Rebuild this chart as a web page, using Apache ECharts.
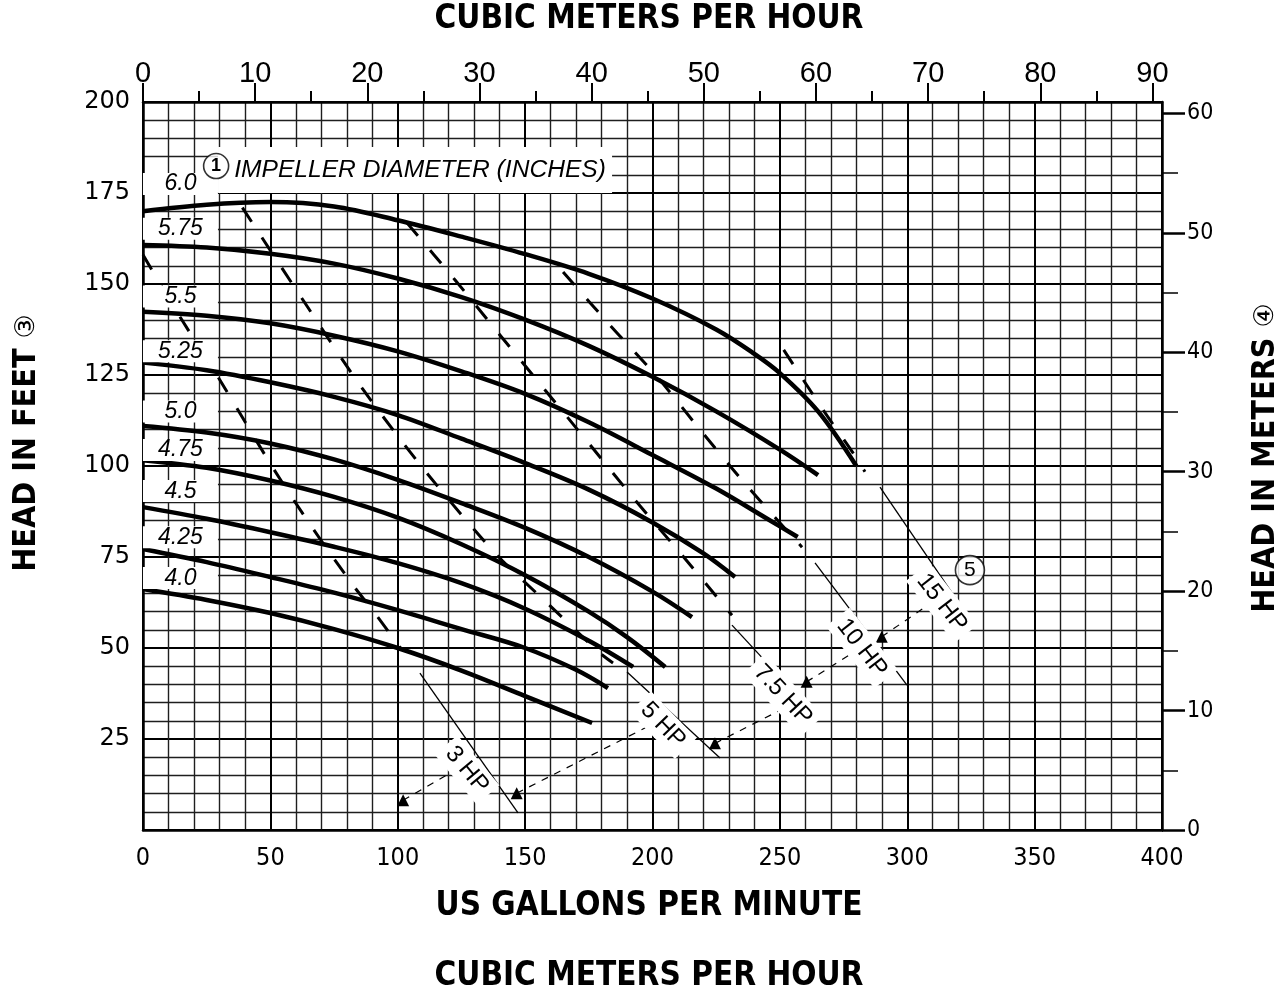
<!DOCTYPE html>
<html><head><meta charset="utf-8">
<script src="https://cdn.jsdelivr.net/npm/echarts@6/dist/echarts.min.js"></script>
<style>html,body{margin:0;padding:0;background:#fff}#c{width:1288px;height:992px}</style>
</head><body><div id="c"></div>
<script>
// ---------- data ----------
const GPM_MAX = 400, FT_MAX = 200;
const M3H_PER_GPM = 0.2271247, M_PER_FT = 0.3048;
const gpmLabels = [0,50,100,150,200,250,300,350,400];
const ftLabels = [25,50,75,100,125,150,175,200];
const topMajorTicks = [0,10,20,30,40,50,60,70,80,90];
const topMinorTicks = [5,15,25,35,45,55,65,75,85];
const rightMajorTicks = [0,10,20,30,40,50,60];
const rightMinorTicks = [5,15,25,35,45,55];

// impeller curves [gpm, ft]
const imp60  = [[0,170],[25,171.8],[50,172.5],[75,171.3],[100,167.5],[125,163],[150,158.2],[175,152.8],[200,146],[225,137.5],[240,130.8],[250,125.5],[265,115],[280,100]];
const imp575 = [[0,160.7],[25,160],[50,158.3],[75,155.6],[100,151.5],[125,146.4],[150,140.2],[175,133],[200,124.5],[225,115],[250,104.5],[265,97.5]];
const imp55  = [[0,142.4],[25,141.3],[50,139.2],[75,135.8],[100,131.5],[125,126],[150,119.8],[175,112],[200,103],[225,93.8],[245,85.5],[257,80.5]];
const imp525 = [[0,128.4],[25,126.3],[50,123],[75,119],[100,114],[125,107.5],[150,100.8],[175,93.5],[200,84.5],[220,76],[232.4,69.5]];
const imp50  = [[0,111],[25,109.2],[50,106.2],[75,101.8],[100,96.2],[125,89.8],[150,83],[175,75],[200,65.5],[215.5,58.5]];
const imp475 = [[0,101.6],[25,99.5],[50,96],[75,91.5],[100,85.8],[125,78.5],[150,70],[175,60],[190,53],[205,44.8]];
const imp45  = [[0,88.7],[25,85.5],[50,81.8],[75,77.8],[100,73.3],[125,67.8],[150,60.8],[175,52],[192.4,44.8]];
const imp425 = [[0,77.2],[25,73.6],[50,69.5],[75,65.2],[100,60.4],[125,55.2],[150,50],[170,44],[182.5,39]];
const imp40  = [[0,66.2],[25,63.2],[50,59.6],[75,55.2],[100,50],[125,43.8],[150,36.8],[176.3,29.4]];

// dashed power-limit lines
const pow1 = [[0,158],[14.5,141],[29.4,124.5],[51,99.5],[66.3,83.2],[82.4,67.3],[91,59.6],[101,50]];
const pow2 = [[39,171],[62.8,145.6],[86,121.4],[111.5,98],[139,75.5],[158.6,62.4],[179.4,48.6],[184.5,45.9]];
const pow3 = [[103.6,166.8],[122.5,151.1],[140.1,136],[157.8,120.9],[175.5,105.8],[193.1,90.7],[211.6,75.5],[231.2,59]];
const pow4 = [[164.9,153.3],[183.3,138.7],[201.8,124.5],[219.8,109],[237.5,94.2],[258.7,77.7]];
const pow5 = [[251.5,131.9],[267,115.4],[278.7,103.6],[283.4,98.4]];

// thin HP lines
const hp3  = [[108.7,43.1],[147.2,4.7]];
const hp5  = [[190,43.4],[226.5,19.8]];
const hp75 = [[231.2,56.3],[264.6,31]];
const hp10 = [[263.8,73.4],[299.9,39.8]];
const hp15 = [[289.3,94.2],[325.4,57.1]];

// leader arrows
const arrow1 = [[102.1,8.2],[131.8,20.2]];
const arrow2 = [[146.7,10.1],[208.2,32]];
const arrow3 = [[224.5,23.8],[258,35.7]];
const arrow4 = [[260.5,40.7],[286.6,52.2]];
const arrow5 = [[290,53.1],[316.8,65.9]];

// text labels [text, gpm, ft]
const impLabels = [["6.0",14.7,177.5],["5.75",14.7,165.2],["5.5",14.7,146.6],["5.25",14.7,131.5],["5.0",14.7,115.0],["4.75",14.7,104.4],["4.5",14.7,93.1],["4.25",14.7,80.4],["4.0",14.7,69.2]];
const titleLabel = ["IMPELLER DIAMETER (INCHES)",106.8,181.3];
const hpLabels = [["3 HP",127.2,16.5],["5 HP",204.1,28.8],["7.5 HP",251.2,37.1],["10 HP",282.2,50],["15 HP",313.6,62.4]];
const hpLabelRot = [-50,-46,-47,-52,-52];
const notes = [["1",28.7,182.4],["5",324.6,71.4]];

// ---------- chart ----------
const COND = '"DejaVu Sans Condensed","Liberation Sans",sans-serif';
const SANS = '"Liberation Sans",Arial,sans-serif';
const chart = echarts.init(document.getElementById('c'), null, {renderer:'canvas'});

const labelBase = {show:true, position:'inside', formatter:'{b}', color:'#000', opacity:1, textBorderWidth:0, textShadowBlur:0};
const series = [];
[imp60,imp575,imp55,imp525,imp50,imp475,imp45,imp425,imp40].forEach(d=>{
  series.push({type:'line', data:d, symbol:'none', smooth:0.35, lineStyle:{color:'#000', width:4.5}, z:4, silent:true});
});
[pow1,pow2,pow3,pow4,pow5].forEach(d=>{
  series.push({type:'line', data:d, symbol:'none', smooth:0.3, lineStyle:{color:'#000', width:3, type:[17,19], cap:'butt'}, z:3, silent:true});
});
[hp3,hp5,hp75,hp10,hp15].forEach(d=>{
  series.push({type:'line', data:d, symbol:'none', lineStyle:{color:'#000', width:1.3}, z:3, silent:true});
});
[arrow1,arrow2,arrow3,arrow4,arrow5].forEach(d=>{
  series.push({type:'line', showSymbol:true, symbol:'triangle', symbolSize:12,
    itemStyle:{color:'#000'},
    data:[{value:d[0]},{value:d[1], symbol:'none'}],
    lineStyle:{color:'#000', width:1.2, type:[7,7]}, z:3, silent:true});
});
series.push({type:'scatter', symbolSize:1, itemStyle:{color:'#fff'}, z:6, silent:true,
  data: impLabels.map(l=>({name:l[0], value:[l[1],l[2]]})),
  label:Object.assign({}, labelBase, {fontFamily:SANS, fontStyle:'italic', fontSize:23,
    backgroundColor:'#fff', width:75, height:22, lineHeight:22, align:'center', verticalAlign:'middle'})
});
series.push({type:'scatter', symbolSize:1, itemStyle:{color:'#fff'}, z:6, silent:true,
  data:[{name:titleLabel[0], value:[titleLabel[1],titleLabel[2]]}],
  label:Object.assign({}, labelBase, {fontFamily:SANS, fontStyle:'italic', fontSize:24.6,
    backgroundColor:'#fff', width:384, height:46, lineHeight:46, padding:[0,0,0,10], align:'center', verticalAlign:'middle'})
});
series.push({type:'scatter', symbolSize:1, itemStyle:{color:'#fff'}, z:6, silent:true,
  data: hpLabels.map((l,i)=>({name:l[0], value:[l[1],l[2]], label:{rotate:hpLabelRot[i]}})),
  label:Object.assign({}, labelBase, {fontFamily:SANS, fontSize:24,
    backgroundColor:'#fff', padding:[3,6], align:'center', verticalAlign:'middle'})
});
series.push({type:'scatter', symbol:'circle', z:7, silent:true,
  data: notes.map((n,i)=>({name:n[0], value:[n[1],n[2]], symbolSize: i===0?25:29,
     label:{fontWeight: i===0?'bold':'normal', fontSize: i===0?18:21}})),
  itemStyle:{color:'#fff', borderColor:'#000', borderWidth:1.6},
  label:Object.assign({}, labelBase, {fontFamily:SANS})
});

const gridRect = {left:143, right:126, top:102, bottom:162, containLabel:false};
const option = {
  animation:false,
  backgroundColor:'#fff',
  grid:[Object.assign({}, gridRect), Object.assign({}, gridRect)],
  xAxis:[
    {type:'value', gridIndex:0, position:'bottom', min:0, max:GPM_MAX, interval:50,
      axisLine:{show:true, onZero:false, lineStyle:{color:'#000', width:2.5}},
      axisTick:{show:false},
      axisLabel:{color:'#000', fontFamily:COND, fontSize:25, margin:16, customValues:gpmLabels},
      splitLine:{show:true, lineStyle:{color:'#000', width:2}},
      minorTick:{show:false, splitNumber:5},
      minorSplitLine:{show:true, lineStyle:{color:'#1e1e1e', width:1.4}}},
    {type:'value', gridIndex:0, position:'top', min:0, max:GPM_MAX*M3H_PER_GPM,
      axisLine:{show:true, onZero:false, lineStyle:{color:'#000', width:2.5}},
      axisTick:{show:true, inside:false, length:19, lineStyle:{color:'#000', width:2}, customValues:topMajorTicks},
      axisLabel:{show:true, color:'#000', fontFamily:SANS, fontSize:29, margin:14, customValues:topMajorTicks},
      splitLine:{show:false}},
    {type:'value', gridIndex:1, position:'top', min:0, max:GPM_MAX*M3H_PER_GPM,
      axisLine:{show:false, onZero:false},
      axisTick:{show:true, inside:false, length:11, lineStyle:{color:'#000', width:2}, customValues:topMinorTicks},
      axisLabel:{show:false},
      splitLine:{show:false}}
  ],
  yAxis:[
    {type:'value', gridIndex:0, position:'left', min:0, max:FT_MAX, interval:25,
      axisLine:{show:true, onZero:false, lineStyle:{color:'#000', width:2.5}},
      axisTick:{show:false},
      axisLabel:{color:'#000', fontFamily:'"DejaVu Sans",sans-serif', fontSize:24, margin:13, customValues:ftLabels},
      splitLine:{show:true, lineStyle:{color:'#000', width:2}},
      minorTick:{show:false, splitNumber:5},
      minorSplitLine:{show:true, lineStyle:{color:'#1e1e1e', width:1.4}}},
    {type:'value', gridIndex:0, position:'right', min:0, max:FT_MAX*M_PER_FT,
      axisLine:{show:true, onZero:false, lineStyle:{color:'#000', width:2.5}},
      axisTick:{show:true, inside:false, length:23, lineStyle:{color:'#000', width:2.5}, customValues:rightMajorTicks},
      axisLabel:{show:true, color:'#000', fontFamily:COND, fontSize:23, margin:25, customValues:rightMajorTicks},
      splitLine:{show:false}},
    {type:'value', gridIndex:1, position:'right', min:0, max:FT_MAX*M_PER_FT,
      axisLine:{show:false, onZero:false},
      axisTick:{show:true, inside:false, length:16, lineStyle:{color:'#000', width:1.5}, customValues:rightMinorTicks},
      axisLabel:{show:false},
      splitLine:{show:false}}
  ],
  graphic:[
    {type:'text', x:649, y:19, z:10, style:{text:'CUBIC METERS PER HOUR', fill:'#000', font:'bold 33px '+COND, textAlign:'center', textVerticalAlign:'middle'}},
    {type:'text', x:649, y:906, z:10, style:{text:'US GALLONS PER MINUTE', fill:'#000', font:'bold 33px '+COND, textAlign:'center', textVerticalAlign:'middle'}},
    {type:'text', x:649, y:976, z:10, style:{text:'CUBIC METERS PER HOUR', fill:'#000', font:'bold 33px '+COND, textAlign:'center', textVerticalAlign:'middle'}},
    {type:'text', x:27, y:443, rotation:Math.PI/2, z:10, style:{text:'HEAD IN FEET {c|③}', fill:'#000', font:'bold 32px '+COND, textAlign:'center', textVerticalAlign:'middle',
       rich:{c:{fontSize:27, fontWeight:'normal', fontFamily:'"DejaVu Sans",sans-serif', fill:'#000'}}}},
    {type:'text', x:1266, y:458, rotation:Math.PI/2, z:10, style:{text:'HEAD IN METERS {c|④}', fill:'#000', font:'bold 32px '+COND, textAlign:'center', textVerticalAlign:'middle',
       rich:{c:{fontSize:27, fontWeight:'normal', fontFamily:'"DejaVu Sans",sans-serif', fill:'#000'}}}}
  ],
  series: series
};
chart.setOption(option);
</script></body></html>
